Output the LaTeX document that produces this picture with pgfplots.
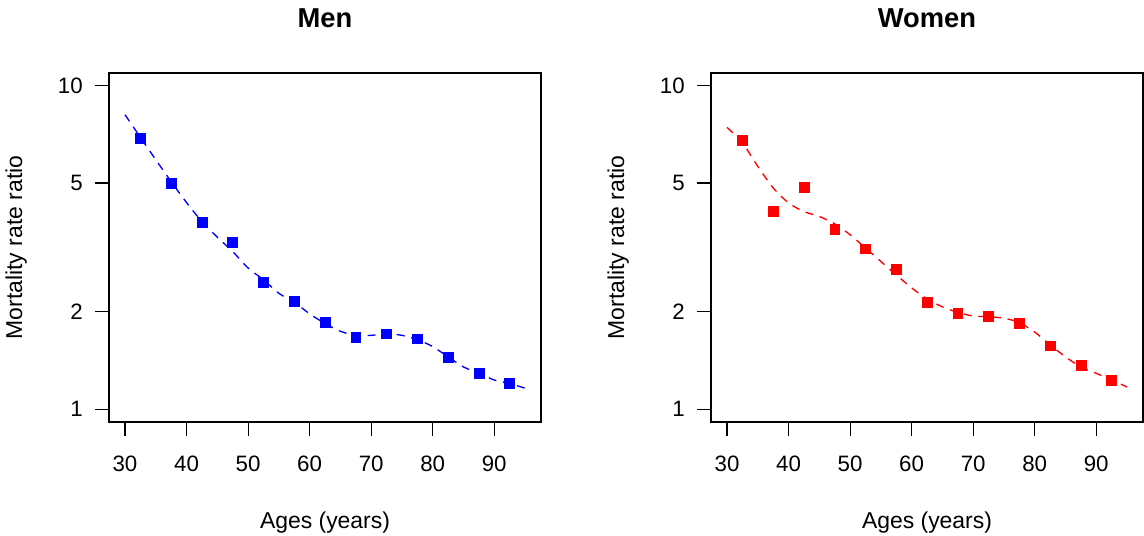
\documentclass[border=0pt]{standalone}
\usepackage{fontspec}
\setmainfont{Liberation Sans}
\usepackage{pgfplots}
\pgfplotsset{compat=1.18}
\pgfplotsset{
  rpanel/.style={
    scale only axis, width=324pt, height=261.75pt,
    xmin=27.4, xmax=97.6, ymin=0.912, ymax=10.94,
    xtick={30,40,50,60,70,80,90},
    ytick={1,2,5,10}, yticklabels={1,2,5,10},
    minor tick num=0,
    tick pos=left, tick align=outside,
    major tick length=10.2pt,
    tick style={black, line width=0.8pt},
    axis line style={line width=0.8pt},
    /pgf/number format/assume math mode=true,
    tick label style={font=\fontsize{16.7}{19}\selectfont},
    xticklabel style={yshift=-12pt},
    yticklabel style={xshift=-6pt},
    label style={font=\fontsize{17.2}{20}\selectfont},
    every axis title shift=0pt,
    title style={font=\fontsize{20.5}{24}\selectfont\bfseries, at={(axis description cs:0.5,1.158)}, anchor=center},
    xlabel style={at={(axis description cs:0.5,-0.287)}, anchor=center},
    ylabel style={at={(axis description cs:-0.215,0.5)}, anchor=center},
    xlabel={Ages (years)}, ylabel={Mortality rate ratio},
  }
}
\begin{document}
\begin{tikzpicture}
\useasboundingbox (0,0) rectangle (858pt,401.25pt);
\begin{axis}[ymode=log, rpanel, at={(81.75pt,84.75pt)}, anchor=south west, title={Men}]
\addplot[blue, line width=1pt, dash pattern=on 6pt off 5pt, smooth] coordinates {
(30,8.13)(32.5,6.92)(35,5.9)(37.5,5.05)(40,4.35)(42.5,3.8)(45,3.4)(47.5,3.07)(50,2.73)(52.5,2.51)(55,2.28)(57.5,2.14)(60,1.97)(62.5,1.84)(65,1.74)(67.5,1.69)(70,1.69)(72.5,1.71)(75,1.69)(77.5,1.64)(80,1.56)(82.5,1.45)(85,1.35)(87.5,1.29)(90,1.23)(92.5,1.20)(95,1.16)};
\addplot[only marks, mark=square*, mark size=3.7pt, color=blue] coordinates {
(32.5,6.87)(37.5,5.0)(42.5,3.79)(47.5,3.27)(52.5,2.46)(57.5,2.16)(62.5,1.85)(67.5,1.67)(72.5,1.71)(77.5,1.65)(82.5,1.45)(87.5,1.29)(92.5,1.20)};
\end{axis}
\begin{axis}[ymode=log, rpanel, at={(533.25pt,84.75pt)}, anchor=south west, title={Women}]
\addplot[red, line width=1pt, dash pattern=on 6pt off 5pt, smooth] coordinates {
(30,7.43)(32.5,6.65)(35,5.63)(37.5,4.83)(40,4.34)(42.5,4.08)(45,3.94)(47.5,3.74)(50,3.46)(52.5,3.15)(55,2.86)(57.5,2.60)(60,2.37)(62.5,2.19)(65,2.07)(67.5,1.99)(70,1.94)(72.5,1.93)(75,1.91)(77.5,1.85)(80,1.73)(82.5,1.58)(85,1.45)(87.5,1.35)(90,1.29)(92.5,1.23)(95,1.17)};
\addplot[only marks, mark=square*, mark size=3.7pt, color=red] coordinates {
(32.5,6.76)(37.5,4.08)(42.5,4.85)(47.5,3.59)(52.5,3.13)(57.5,2.70)(62.5,2.14)(67.5,1.98)(72.5,1.94)(77.5,1.84)(82.5,1.57)(87.5,1.37)(92.5,1.23)};
\end{axis}
\end{tikzpicture}
\end{document}
